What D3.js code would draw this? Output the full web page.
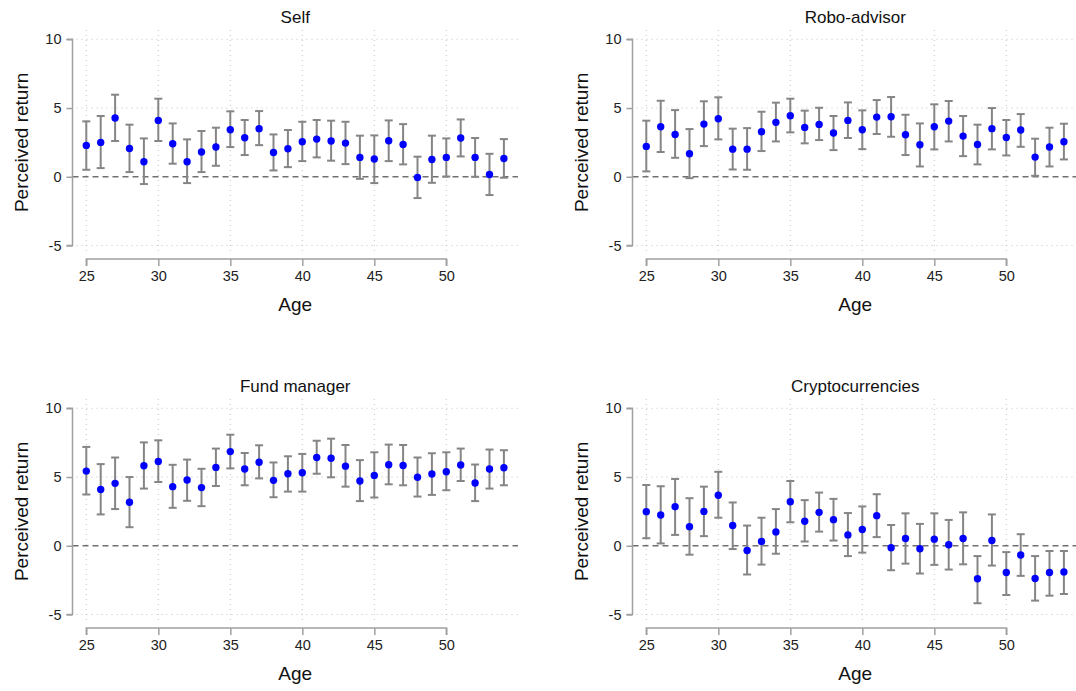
<!DOCTYPE html>
<html><head><meta charset="utf-8">
<script src="https://cdn.jsdelivr.net/npm/d3@7/dist/d3.min.js"></script>
<style>body{margin:0;background:#fff}svg{display:block;font-family:"Liberation Sans",Arial,sans-serif}</style>
</head><body><svg id="c" width="1076" height="691"></svg>
<script>
const ages = d3.range(25, 55);
const xTicks = [25, 30, 35, 40, 45, 50];
const yTicks = [-5, 0, 5, 10];
const titles = ["Self", "Robo-advisor", "Fund manager", "Cryptocurrencies"];

const selfMean = [2.28,2.5,4.27,2.06,1.09,4.1,2.4,1.09,1.8,2.16,3.42,2.84,3.5,1.77,2.04,2.55,2.74,2.6,2.45,1.41,1.29,2.62,2.35,-0.05,1.26,1.41,2.82,1.41,0.17,1.33];
const selfHi   = [4.03,4.42,5.97,3.79,2.79,5.68,3.88,2.72,3.33,3.57,4.76,4.13,4.78,3.08,3.4,4.0,4.13,4.08,4.0,2.99,3.01,4.1,3.83,1.46,2.99,2.79,4.17,2.82,1.67,2.74];
const selfLo   = [0.51,0.63,2.6,0.34,-0.53,2.6,0.95,-0.46,0.34,0.8,2.16,1.58,2.3,0.46,0.7,1.14,1.41,1.17,0.92,-0.15,-0.46,1.14,0.9,-1.55,-0.44,0.02,1.48,0.0,-1.33,-0.07];

const roboMean = [2.21,3.64,3.08,1.67,3.83,4.22,2.01,2.01,3.28,3.96,4.44,3.59,3.81,3.18,4.1,3.42,4.34,4.37,3.06,2.33,3.64,4.05,2.96,2.35,3.5,2.86,3.4,1.43,2.16,2.55];
const roboHi   = [4.08,5.53,4.85,3.47,5.49,5.78,3.5,3.54,4.73,5.39,5.68,4.81,5.02,4.42,5.41,4.83,5.58,5.8,4.51,3.88,5.27,5.51,4.42,3.79,5.0,4.13,4.56,2.77,3.57,3.86];
const roboLo   = [0.39,1.8,1.38,-0.1,2.23,2.72,0.53,0.51,1.87,2.57,3.23,2.43,2.67,1.94,2.82,2.01,3.11,2.91,1.58,0.75,1.99,2.57,1.5,0.9,1.99,1.55,2.18,0.07,0.75,1.26];

const fundMean = [5.43,4.09,4.54,3.17,5.82,6.13,4.3,4.78,4.23,5.7,6.85,5.58,6.08,4.76,5.24,5.31,6.42,6.37,5.79,4.71,5.12,5.89,5.84,4.98,5.22,5.38,5.87,4.57,5.58,5.67];
const fundHi   = [7.19,5.94,6.42,5.0,7.52,7.67,5.89,6.27,5.6,7.07,8.08,6.75,7.31,6.06,6.51,6.68,7.64,7.79,7.33,6.23,6.8,7.36,7.33,6.42,6.73,6.8,7.07,5.91,7.0,6.95];
const fundLo   = [3.73,2.28,2.67,1.35,4.16,4.64,2.76,3.27,2.88,4.35,5.63,4.4,4.9,3.53,3.94,3.94,5.24,4.98,4.3,3.25,3.51,4.47,4.4,3.58,3.7,4.04,4.71,3.25,4.16,4.4];

const cryptoMean = [2.48,2.24,2.84,1.39,2.5,3.68,1.47,-0.34,0.31,1.01,3.2,1.78,2.43,1.9,0.79,1.18,2.19,-0.14,0.53,-0.22,0.48,0.07,0.53,-2.4,0.38,-1.95,-0.67,-2.38,-1.95,-1.9];
const cryptoHi   = [4.42,4.33,4.86,3.46,4.3,5.38,3.15,1.47,2.04,2.67,4.71,3.32,3.87,3.41,2.38,2.86,3.75,1.51,2.36,1.59,2.36,1.88,2.43,-0.75,2.28,-0.46,0.84,-0.75,-0.38,-0.38];
const cryptoLo   = [0.55,0.17,0.79,-0.65,0.7,2.04,-0.24,-2.09,-1.37,-0.58,1.71,0.31,1.03,0.38,-0.75,-0.5,0.63,-1.78,-1.3,-2.02,-1.39,-1.73,-1.35,-4.18,-1.44,-3.58,-2.19,-3.99,-3.63,-3.51];

const series = [
  [selfMean, selfLo, selfHi],
  [roboMean, roboLo, roboHi],
  [fundMean, fundLo, fundHi],
  [cryptoMean, cryptoLo, cryptoHi]
];

const svg = d3.select("#c");
const grid = "#c4c4c4", axisC = "#a0a0a0", barC = "#858585";

series.forEach((s, i) => {
  const col = i % 2, row = Math.floor(i / 2);
  const g = svg.append("g").attr("transform", `translate(${col * 560},${row * 369})`);
  const x = d3.scaleLinear().domain([25, 50]).range([86.3, 446.3]);
  const y = d3.scaleLinear().domain([-5, 10]).range([245.5, 39.3]);
  const left = 72.5, right = 518, top = 30, bottom = 253;

  // grid
  g.selectAll(".vg").data(xTicks).join("line")
    .attr("x1", d => x(d)).attr("x2", d => x(d)).attr("y1", top).attr("y2", bottom)
    .attr("stroke", grid).attr("stroke-width", 1).attr("stroke-dasharray", "1,4");
  g.selectAll(".hg").data(yTicks.filter(d => d !== 0)).join("line")
    .attr("x1", left + 4).attr("x2", right).attr("y1", d => y(d)).attr("y2", d => y(d))
    .attr("stroke", grid).attr("stroke-width", 1).attr("stroke-dasharray", "1,4");
  // zero line
  g.append("line").attr("x1", left).attr("x2", right).attr("y1", y(0)).attr("y2", y(0))
    .attr("stroke", "#707070").attr("stroke-width", 1.5).attr("stroke-dasharray", "6,4");

  // y axis
  const ya = g.append("g").attr("transform", `translate(${left},0)`)
    .call(d3.axisLeft(y).tickValues(yTicks).tickSize(6).tickPadding(5).tickFormat(d => String(d)));
  ya.select(".domain").attr("stroke", axisC).attr("stroke-width", 1.5).attr("d", `M-6,${y(10)}H0V${y(-5)}H-6`);
  ya.selectAll(".tick line").attr("stroke", axisC).attr("stroke-width", 1.5);
  ya.selectAll(".tick text").attr("fill", "#222").style("font-size", "14.5px").style("font-family", "Liberation Sans, Arial, sans-serif");

  // x axis
  const xa = g.append("g").attr("transform", `translate(0,259)`)
    .call(d3.axisBottom(x).tickValues(xTicks).tickSize(7).tickPadding(5).tickFormat(d => String(d)));
  xa.select(".domain").attr("stroke", axisC).attr("stroke-width", 1.5).attr("d", `M${x(25)},7V0H${x(50)}V7`);
  xa.selectAll(".tick line").attr("stroke", axisC).attr("stroke-width", 1.5);
  xa.selectAll(".tick text").attr("fill", "#222").style("font-size", "14.5px").style("font-family", "Liberation Sans, Arial, sans-serif");

  // labels
  g.append("text").attr("x", (left + right) / 2).attr("y", 23).attr("text-anchor", "middle")
    .style("font-size", "17px").attr("fill", "#111").text(titles[i]);
  g.append("text").attr("x", (left + right) / 2).attr("y", 311).attr("text-anchor", "middle")
    .style("font-size", "19px").attr("fill", "#111").text("Age");
  g.append("text").attr("transform", `translate(28,${(y(10) + y(-5)) / 2}) rotate(-90)`)
    .attr("text-anchor", "middle").style("font-size", "19px").attr("fill", "#111").text("Perceived return");

  const [m, lo, hi] = s;
  const data = ages.map((a, k) => ({a, m: m[k], lo: lo[k], hi: hi[k]}));
  const eb = g.append("g");
  eb.selectAll(".v").data(data).join("line")
    .attr("x1", d => x(d.a)).attr("x2", d => x(d.a)).attr("y1", d => y(d.lo)).attr("y2", d => y(d.hi))
    .attr("stroke", barC).attr("stroke-width", 2);
  eb.selectAll(".ct").data(data).join("line")
    .attr("x1", d => x(d.a) - 4).attr("x2", d => x(d.a) + 4).attr("y1", d => y(d.hi)).attr("y2", d => y(d.hi))
    .attr("stroke", barC).attr("stroke-width", 2);
  eb.selectAll(".cb").data(data).join("line")
    .attr("x1", d => x(d.a) - 4).attr("x2", d => x(d.a) + 4).attr("y1", d => y(d.lo)).attr("y2", d => y(d.lo))
    .attr("stroke", barC).attr("stroke-width", 2);
  g.append("g").selectAll("circle").data(data).join("circle")
    .attr("cx", d => x(d.a)).attr("cy", d => y(d.m)).attr("r", 3.7).attr("fill", "#0000ff");
});
</script></body></html>
